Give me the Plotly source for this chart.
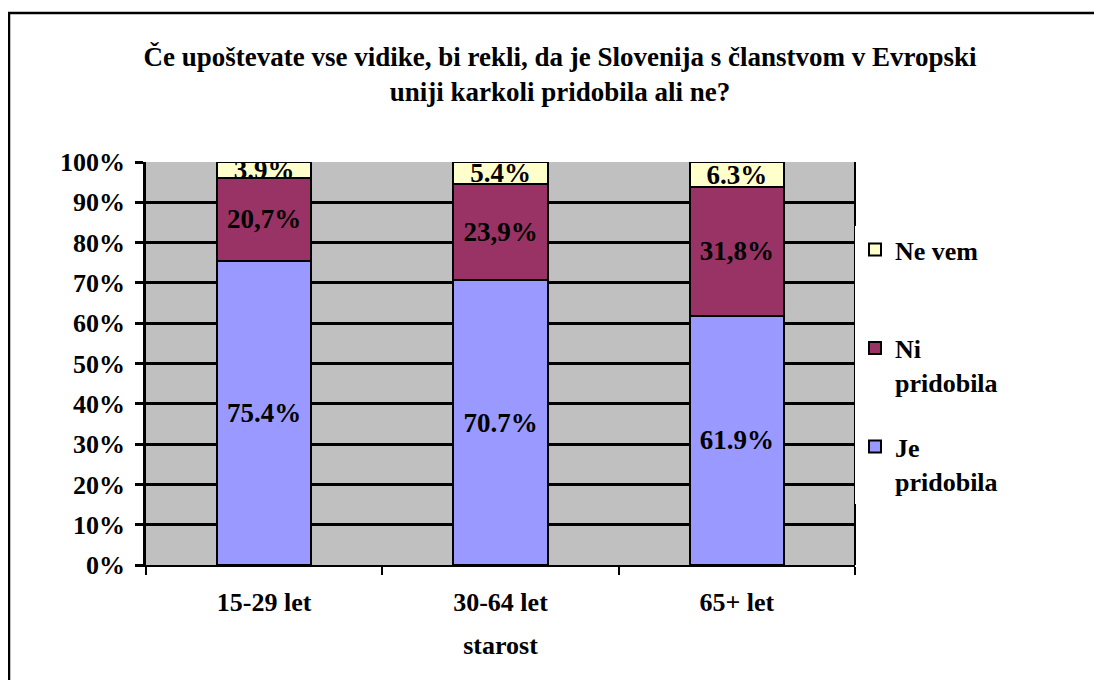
import plotly.graph_objects as go

categories = ["15-29 let", "30-64 let", "65+ let"]
je_pridobila = [75.4, 70.7, 61.9]
ni_pridobila = [20.7, 23.9, 31.8]
ne_vem = [3.9, 5.4, 6.3]
je_labels = ["75.4%", "70.7%", "61.9%"]
ni_labels = ["20,7%", "23,9%", "31,8%"]
ne_labels = ["3.9%", "5.4%", "6.3%"]
series_names = ["<b>Je<br>pridobila</b>", "<b>Ni<br>pridobila</b>", "<b>Ne vem</b><br>\u00a0"]

FONT = "Liberation Serif"
FS = 26

# page-pixel helpers (page has an 8px body margin)
W, H = 1094, 672
L, T, PW, PH = 138, 154, 709, 403


def px_x(page_x):
    return (page_x - 8 - L) / PW


def px_y(page_y):
    return (T + PH - (page_y - 8)) / PH


fig = go.Figure()
series = [
    (series_names[0], je_pridobila, je_labels, "#9999FF", 3),
    (series_names[1], ni_pridobila, ni_labels, "#993366", 2),
    (series_names[2], ne_vem, ne_labels, "#FFFFCC", 1),
]
for i, (name, vals, labels, color, rank) in enumerate(series):
    fig.add_trace(go.Bar(
        x=categories, y=[v / 100 for v in vals], name=name,
        marker=dict(color=color, line=dict(color="black", width=2)),
        text=[f"<b>{t}</b>" for t in labels],
        textposition="inside", insidetextanchor="middle",
        constraintext="none", cliponaxis=True,
        textfont=dict(family=FONT, size=27, color="black"),
        legendgroup=f"g{i}", legendrank=rank,
        width=0.4,
    ))

fig.update_layout(
    width=W, height=H,
    barmode="stack",
    paper_bgcolor="white",
    plot_bgcolor="#C0C0C0",
    margin=dict(l=L, r=W - L - PW, t=T, b=H - T - PH, autoexpand=False),
    font=dict(family=FONT, size=FS, color="black"),
    title=dict(
        text="<b>Če upoštevate vse vidike, bi rekli, da je Slovenija s članstvom v Evropski<br>uniji karkoli pridobila ali ne?</b>",
        x=(560 - 8) / W, xanchor="center", xref="container",
        y=1 - 58 / H, yanchor="top", yref="container",
        font=dict(family=FONT, size=27, color="black"),
    ),
    legend=dict(
        x=1.0, xanchor="left", y=px_y(226), yanchor="top",
        traceorder="grouped", tracegroupgap=28,
        valign="top",
        font=dict(family=FONT, size=FS, color="black"),
        bgcolor="white",
    ),
    xaxis=dict(
        showgrid=False,
        ticks="outside", ticklen=8, tickwidth=2, tickcolor="black",
        tickson="boundaries",
        showline=True, linecolor="black", linewidth=2,
        tickfont=dict(family=FONT, size=FS, color="black"),
        ticklabelstandoff=13,
        tickprefix="<b>", ticksuffix="</b>",
        title=dict(text="<b>starost</b>", font=dict(family=FONT, size=FS, color="black"), standoff=20),
    ),
    yaxis=dict(
        range=[0, 1], dtick=0.1, tickformat=".0%",
        showgrid=True, gridcolor="black", gridwidth=2.5,
        ticks="outside", ticklen=8, tickwidth=2.5, tickcolor="black",
        showline=True, linecolor="black", linewidth=2.5,
        zeroline=False,
        ticklabelstandoff=5,
        tickfont=dict(family=FONT, size=FS, color="black"),
        tickprefix="<b>", ticksuffix="</b>",
    ),
    shapes=[
        dict(type="rect", xref="paper", yref="paper",
             x0=px_x(9), x1=px_x(1130),
             y0=px_y(720), y1=px_y(13),
             line=dict(color="black", width=2.5), fillcolor="rgba(0,0,0,0)", layer="below"),
        dict(type="line", xref="paper", yref="paper",
             x0=1, x1=1, y0=0, y1=1,
             line=dict(color="black", width=2)),
    ],
)

fig.write_html("out.html")
